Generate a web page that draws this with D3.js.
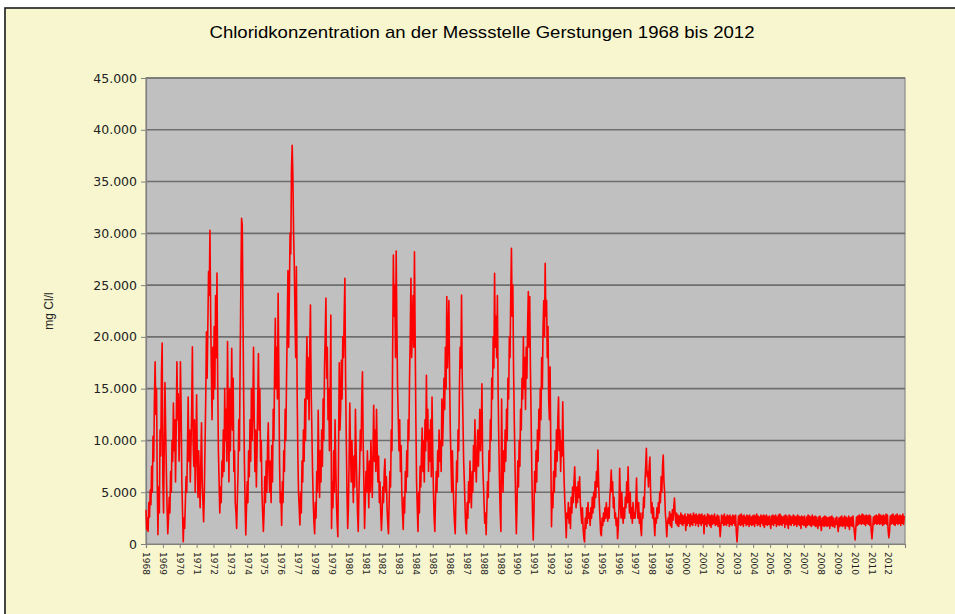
<!DOCTYPE html>
<html><head><meta charset="utf-8">
<script src="https://cdn.jsdelivr.net/npm/d3@7"></script>
<style>html,body{margin:0;padding:0;background:#fff;}svg{display:block;}</style>
</head><body>
<script>
// ---- data (mg Cl/l), ~2 readings per month ----
const title = "Chloridkonzentration an der Messstelle Gerstungen 1968 bis 2012";
const yAxisTitle = "mg Cl/l";
const startYear = 1968;
const endYear = 2012;
const readingsPerYear = 24;
const yTicks = [0,5000,10000,15000,20000,25000,30000,35000,40000,45000];
const yearLabels = ["1968","1969","1970","1971","1972","1973","1974","1975","1976","1977","1978","1979","1980","1981","1982","1983","1984","1985","1986","1987","1988","1989","1990","1991","1992","1993","1994","1995","1996","1997","1998","1999","2000","2001","2002","2003","2004","2005","2006","2007","2008","2009","2010","2011","2012"];
const chlorid = [
/*1968*/3300,1400,2500,1200,4000,2600,5200,3800,7500,5000,10400,8000,14000,17600,12500,15000,6000,900,5500,3000,11000,8500,16500,19400,
/*1969*/6000,3000,9500,15600,11000,7000,3500,1000,2500,4500,3000,7000,5000,10000,8000,13600,9000,12000,6000,11000,17600,12000,14500,8000,
/*1970*/11000,17600,13000,6000,3000,220,2500,1500,4000,6500,5000,9000,14200,8000,11000,6000,9500,13000,19050,10000,7500,12000,5000,9000,
/*1971*/14400,8000,4500,9000,6000,3500,8000,11700,6000,4000,2150,5000,9500,14000,20500,16000,21000,26300,24000,30300,22000,17000,12000,19000,
/*1972*/14000,21000,15000,24000,18000,26170,16000,9000,6000,3000,5500,4000,8000,6500,11000,7000,15000,10000,13000,8000,19540,12000,6000,15000,
/*1973*/9000,13000,18900,11000,16000,7000,9000,4000,3000,1500,4500,7000,12000,9000,18000,25000,31450,30800,22000,14000,8000,4000,870,3500,
/*1974*/6000,4000,9000,6500,12000,8000,15000,10000,13000,19000,12000,7000,11000,5500,9000,14000,18400,11000,15000,8000,10000,5000,3000,1200,
/*1975*/3000,6500,4000,8000,5000,9500,11700,7000,5000,8000,4000,9500,6000,13000,10000,17000,21800,15000,19000,14000,24200,17000,8000,4000,
/*1976*/5000,1800,6000,4000,9000,7000,13000,10000,16000,21000,26400,19000,24000,30000,28000,36000,38500,35500,30000,27000,22000,18000,26800,15000,
/*1977*/9000,5000,3500,1830,5000,3000,8000,6000,11000,8000,14000,10000,16000,20000,14000,18000,12000,19000,23080,15000,11000,7000,4000,2000,
/*1978*/1000,4000,2500,7000,5000,12900,8000,4500,9000,6000,11000,7500,14000,10000,17000,20000,23750,16000,19000,12000,15000,9000,14000,22100,
/*1979*/1500,6000,3500,9000,5000,12000,8000,4000,2000,700,9000,17500,11000,13000,17750,14000,20000,18000,22000,25650,16000,10000,5000,1500,
/*1980*/3500,8000,13600,9000,6000,10000,7000,4000,8500,5500,13000,9000,6000,3000,1200,5000,7500,11000,9000,14000,16640,10000,6000,1500,
/*1981*/4000,7000,5000,9000,6500,3500,8000,5000,10000,7000,4500,9000,13400,8000,11000,7000,13000,9000,6000,8500,4000,6000,3000,1300,
/*1982*/3000,5500,4000,7000,8200,5000,6500,3500,2000,1000,4000,7000,5500,11000,9000,19000,27900,22000,25000,18000,28300,21000,15000,12000,
/*1983*/9000,12000,7000,9500,5000,3000,1400,4500,3000,7000,5000,9000,6500,12000,10000,16000,20000,25650,18000,21000,24000,19000,28220,20000,
/*1984*/12000,6000,3500,1200,5000,3000,7500,5500,9000,11200,7000,10000,6000,12000,9000,16300,10000,13000,7000,11000,8000,12000,6500,14200,
/*1985*/9000,5000,2500,1200,4500,7000,5000,9000,6500,11000,8000,10000,7000,14000,9500,12000,16000,13000,19000,15000,23900,17000,20000,23500,
/*1986*/16000,11000,8000,5000,9000,6000,3500,2000,1000,4500,8000,6000,11000,9000,15000,19000,17000,24050,16000,12000,8000,6000,3500,1500,
/*1987*/1000,4000,2500,6000,4000,8000,5500,3500,7000,5000,9500,7000,12000,8000,6000,9000,11000,7500,10000,13000,9000,11000,15460,8000,
/*1988*/6000,4000,2000,3000,900,3500,6000,4500,9000,7000,12000,10000,16000,14000,20000,17000,26140,19000,22000,18000,24000,15000,10000,6000,
/*1989*/3000,1200,14000,8000,5000,9000,7000,11000,8000,13000,10000,16000,14000,20000,18000,24000,28550,22000,25000,17000,12000,8000,4000,1000,
/*1990*/4000,8000,5500,10000,7500,13000,11000,16000,14000,20000,15000,18000,13000,19000,16000,21000,24370,19000,23900,17000,12000,7000,3000,400,
/*1991*/3000,7000,5000,9000,6000,11000,8000,13000,10000,15000,12000,18000,15000,21000,23500,20000,27100,22000,23500,18000,21000,14000,12000,17100,
/*1992*/9000,1670,5000,3500,7000,5000,9000,6500,11000,8000,12000,14200,9000,11000,7000,10000,8500,13740,9000,6000,4000,2500,600,3000,
/*1993*/2500,4000,2000,3500,1500,4500,3000,5500,4000,6000,7460,5000,3500,5500,4000,6000,4500,6500,4000,3000,2000,3500,1500,600,
/*1994*/200,2500,1500,3500,2000,4000,2500,3000,1800,3500,2500,4500,3000,5000,3500,6000,4500,7000,5500,9080,6000,4000,2500,1000,
/*1995*/800,2500,1800,3000,2200,3500,2500,4000,3000,2200,3500,2500,4500,5500,7150,5000,6000,3500,4500,2500,3000,1800,2500,500,
/*1996*/1500,3500,7300,4000,2500,5000,3000,2000,3500,2500,4500,3500,6000,4000,7460,4500,3000,5000,2500,3500,2000,4000,2500,3000,
/*1997*/2500,4000,6370,3500,2500,4000,2000,3000,1500,800,3000,2500,4500,3500,6000,7500,9240,6500,7000,5500,7500,8400,5000,3000,
/*1998*/4000,2500,3500,2000,800,2500,2000,3500,2500,4000,3000,5000,4000,6500,5000,7500,8600,6000,5000,3000,2000,700,2000,2500,
/*1999*/2000,3100,1800,2900,1600,3300,2300,3600,4440,2800,2000,3000,1800,2800,1700,2700,2000,3000,1900,2800,1800,2700,2000,2900,
/*2000*/1300,2600,1800,2900,2000,2800,1700,2900,1900,2700,1800,3000,2100,2800,1800,2900,2000,2700,1700,2900,2000,2800,1800,2900,
/*2001*/2000,2700,1000,2800,1900,2600,1700,2900,2000,2800,1800,2700,1600,2800,1900,2700,2000,2900,1800,2600,1900,2800,1700,2700,
/*2002*/1900,700,1700,2800,2000,2700,1800,2900,1900,2600,1800,2800,2000,2700,1700,2800,1900,2600,1800,2800,2000,2700,1800,2800,
/*2003*/1100,200,1400,2700,1900,2800,1800,2900,1900,2700,1700,2800,2000,2600,1800,2800,1900,2700,1700,2800,1900,2600,1800,2700,
/*2004*/1900,2800,1700,2700,2000,2900,1800,2700,1900,2600,1700,2800,2000,2700,1800,2800,1600,2700,1900,2800,1800,2600,1900,2700,
/*2005*/2000,1500,2700,1900,2800,1800,2700,2000,2800,1700,2600,1900,2800,1800,2900,1900,2700,1800,2600,2000,2700,1600,2800,1900,
/*2006*/2700,1900,1500,2800,1900,2700,1800,2600,2000,2800,1800,2700,1900,2600,1700,2800,1900,2700,1800,2600,1500,2700,1900,2600,
/*2007*/1800,2700,1900,1600,2600,1800,2800,1900,2700,1800,2600,1700,2800,1900,2600,1800,2700,1700,2600,1900,1500,2600,1800,2700,
/*2008*/1900,1300,2500,1800,2600,1700,2700,1800,2600,1700,2500,1800,2600,1500,2600,1800,2700,1700,2500,1800,1600,2500,1900,2600,
/*2009*/1800,1200,2500,1700,2600,1800,2700,1700,2500,1800,2700,1500,2600,1800,2500,1700,2700,1400,2500,1800,2600,1700,2700,1800,
/*2010*/1100,400,1500,2600,1800,2700,1900,2800,2000,2700,1900,2900,2000,2800,1900,2700,1800,2800,2000,2700,1900,2800,1800,2700,
/*2011*/1200,500,1400,2600,1900,2700,2000,2800,1900,2700,2000,2900,1900,2800,2000,2700,1800,2800,1900,2700,2000,2900,1900,2800,
/*2012*/1300,600,1200,2700,1900,2800,2000,2900,1900,2700,1800,2800,2000,2900,1900,2700,2000,2800,1800,2700,2000,2900,1900,2700
];

// ---- drawing ----
const W = 955, H = 614;
const plot = {left:146, right:905, top:78, bottom:544};
const svg = d3.select("body").append("svg").attr("width", W).attr("height", H);

svg.append("rect").attr("x",0).attr("y",0).attr("width",W).attr("height",H).attr("fill","#ffffff");
svg.append("rect").attr("x",5).attr("y",8).attr("width",W+10).attr("height",H+10)
  .attr("fill","#f8f6cf").attr("stroke","#1a1a1a").attr("stroke-width",1.6);

const x = d3.scaleLinear().domain([startYear, endYear + 1]).range([plot.left, plot.right]);
const y = d3.scaleLinear().domain([0, 45000]).range([plot.bottom, plot.top]);

const de = d3.formatLocale({decimal:",", thousands:".", grouping:[3], currency:["","€"]});
const fmt = de.format(",d");

svg.append("rect").attr("x",plot.left).attr("y",plot.top)
  .attr("width",plot.right-plot.left).attr("height",plot.bottom-plot.top)
  .attr("fill","#c0c0c0").attr("stroke","#8a8a8a").attr("stroke-width",1.2);

// gridlines
svg.append("g").selectAll("line").data(yTicks.filter(v => v > 0)).join("line")
  .attr("x1",plot.left).attr("x2",plot.right)
  .attr("y1",d => y(d)).attr("y2",d => y(d))
  .attr("stroke","#6e6e6e").attr("stroke-width",1.6);

// y axis
const yAxis = d3.axisLeft(y).tickValues(yTicks).tickFormat(fmt).tickSize(5).tickPadding(4);
const gy = svg.append("g").attr("transform",`translate(${plot.left},0)`).call(yAxis);
gy.select(".domain").attr("stroke","#808080").attr("stroke-width",1.2);
gy.selectAll(".tick line").attr("stroke","#808080");
gy.selectAll("text").attr("font-family","'DejaVu Sans', Verdana, sans-serif")
  .attr("font-size","12.5px").attr("fill","#222");

// x axis
const yearVals = yearLabels.map(Number);
const xAxis = d3.axisBottom(x).tickValues(yearVals).tickFormat(d3.format("d")).tickSize(4).tickPadding(0);
const gx = svg.append("g").attr("transform",`translate(0,${plot.bottom})`).call(xAxis);
gx.select(".domain").attr("stroke","#808080").attr("stroke-width",1.2);
gx.selectAll(".tick line").attr("stroke","#808080");
gx.selectAll("text")
  .attr("font-family","'DejaVu Sans', Verdana, sans-serif").attr("font-size","9px").attr("fill","#222")
  .attr("text-anchor","start").attr("y",0).attr("dy","0.35em")
  .attr("transform","translate(0,8) rotate(90)");

// series
const pts = chlorid.map((v,i) => [startYear + i / readingsPerYear, v]);
const line = d3.line().x(d => x(d[0])).y(d => y(d[1]));
svg.append("path").datum(pts).attr("d", line)
  .attr("fill","none").attr("stroke","#ff0000").attr("stroke-width",1.6).attr("stroke-linejoin","round");

// titles
svg.append("text").attr("x",482).attr("y",38).attr("text-anchor","middle")
  .attr("font-family","'Liberation Sans', Arial, sans-serif").attr("font-size","17px").attr("fill","#000")
  .attr("textLength",545).attr("lengthAdjust","spacingAndGlyphs")
  .text(title);
svg.append("text").attr("transform","translate(53,311) rotate(-90)").attr("text-anchor","middle")
  .attr("font-family","'Liberation Sans', Arial, sans-serif").attr("font-size","12px").attr("fill","#222")
  .text(yAxisTitle);
</script>
</body></html>
